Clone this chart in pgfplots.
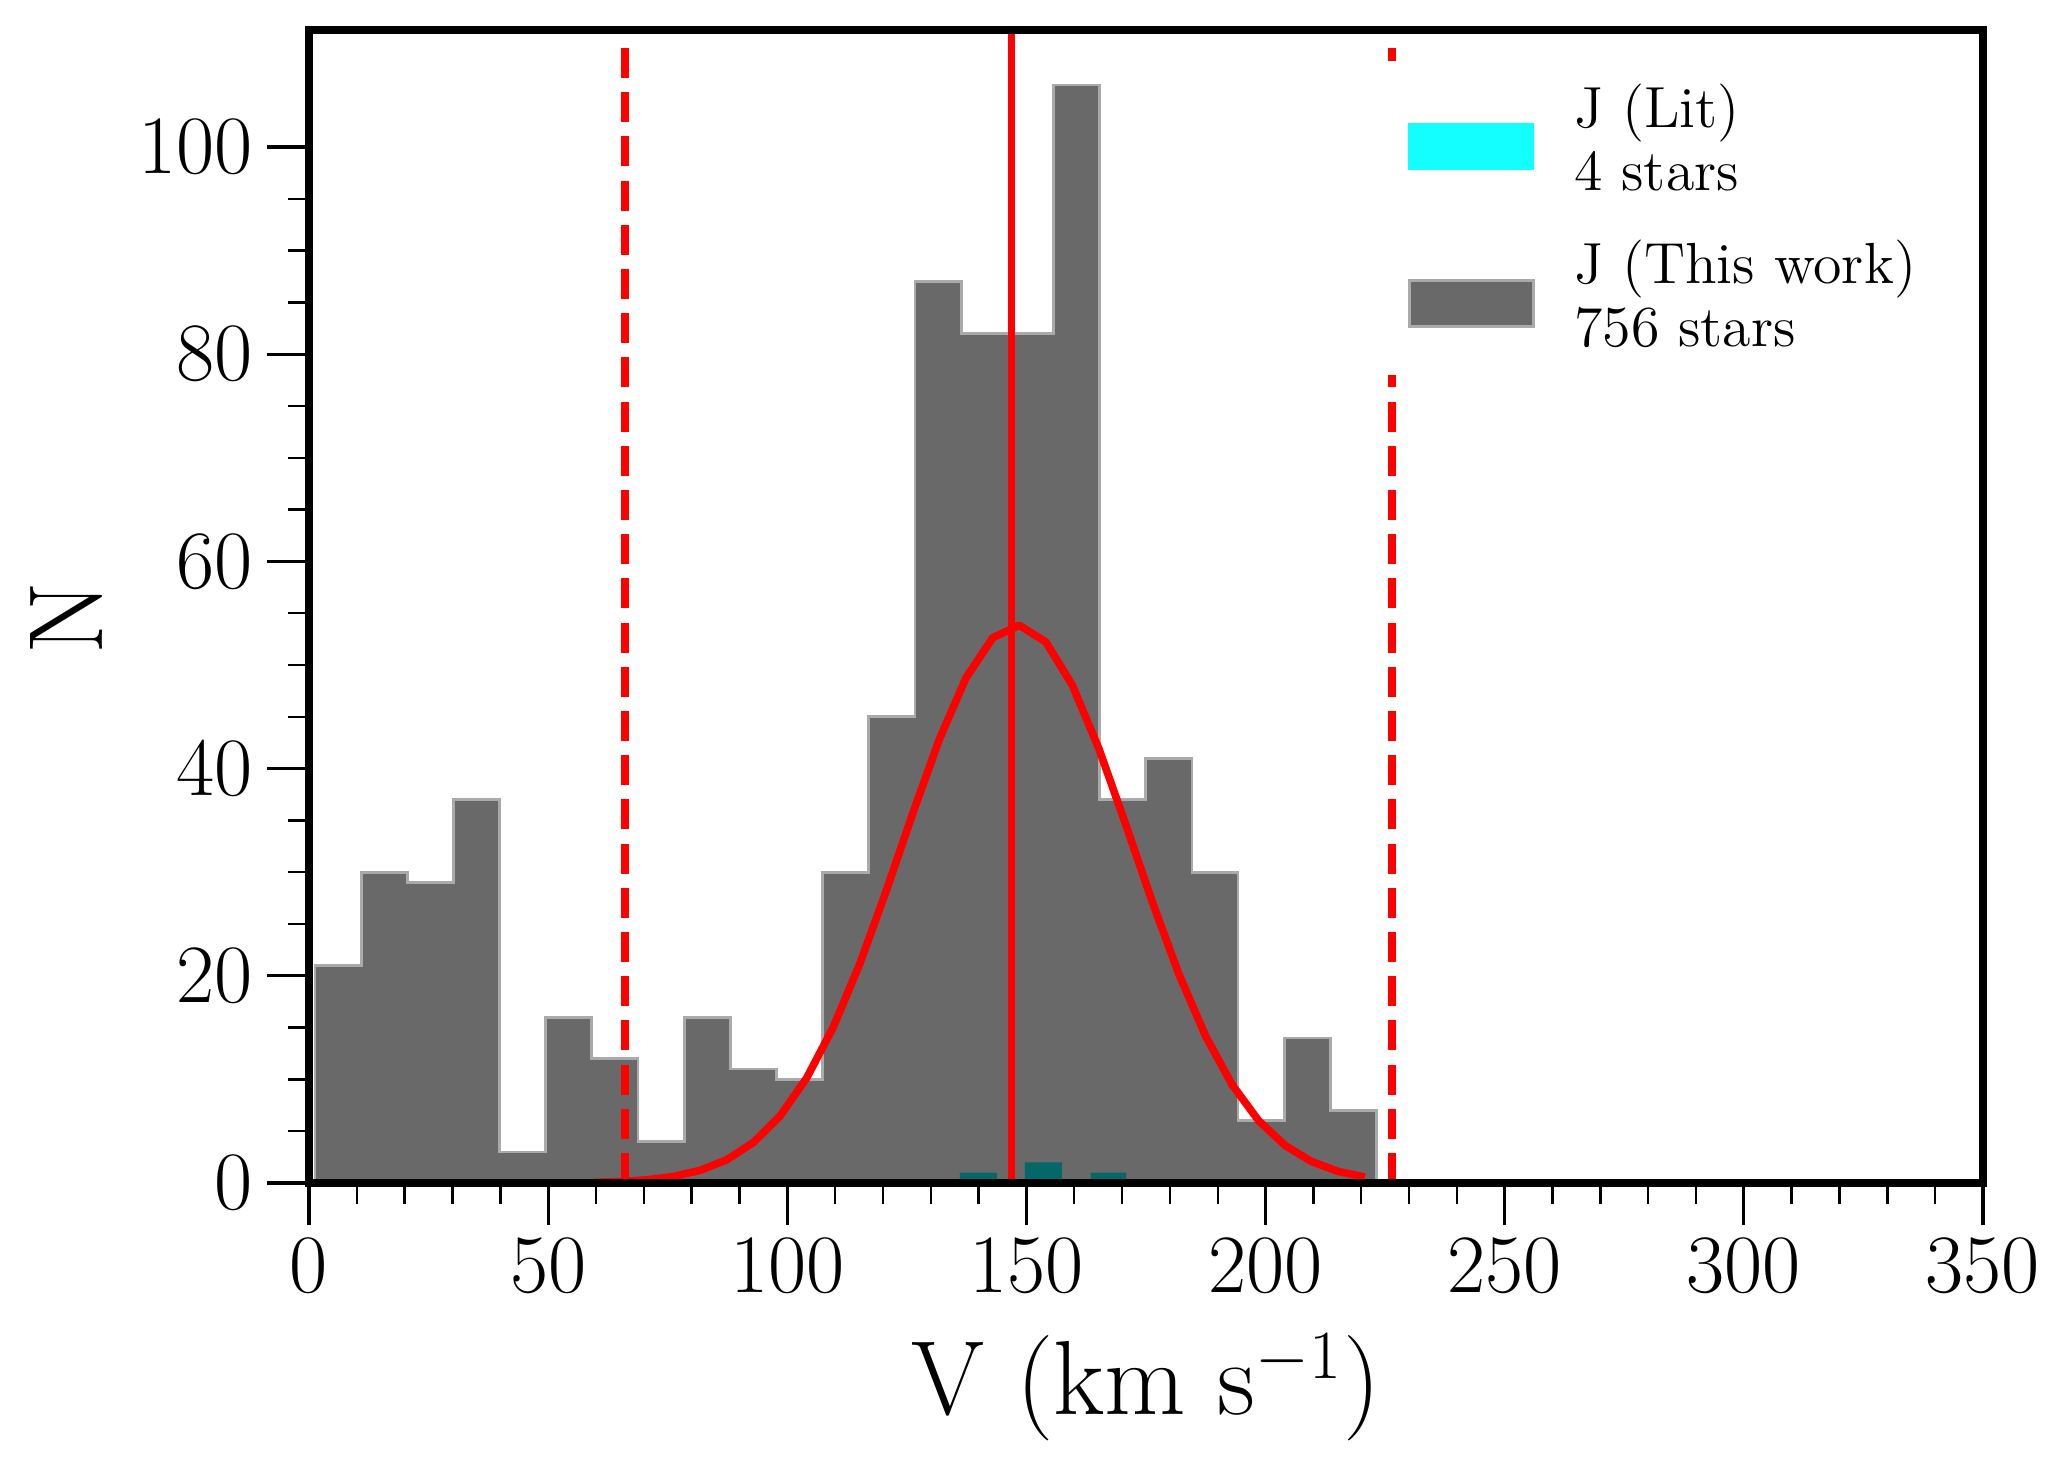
\documentclass[border=0pt]{standalone}
\usepackage{pgfplots}
\pgfplotsset{compat=1.18}
\definecolor{histgray}{RGB}{105,105,105}
\definecolor{edgegray}{RGB}{170,170,170}
\definecolor{litcyan}{RGB}{19,255,255}
\definecolor{litteal}{RGB}{5,104,104}
\begin{document}
\begin{tikzpicture}
\begin{axis}[
  scale only axis, width=418.5pt, height=288.25pt,
  xmin=0, xmax=350, ymin=0, ymax=111.3,
  axis on top,
  axis line style={line width=2pt},
  tick pos=left, tick align=outside,
  xtick={0,50,...,350}, ytick={0,20,...,100},
  minor x tick num=4, minor y tick num=3,
  major tick length=10.5pt, minor tick length=5.2pt,
  major tick style={line width=0.8pt, black},
  minor tick style={line width=0.6pt, black},
  tick label style={font=\fontsize{21.35}{25}\selectfont},
  xlabel={V (km s$^{-1}$)}, ylabel={N},
  label style={font=\fontsize{26.35}{30}\selectfont},
  xlabel style={at={(axis description cs:0.5,-0.2012)}, anchor=base},
  ylabel style={at={(axis description cs:-0.1235,0.49)}, anchor=base},
  legend style={at={(0.6416,0.974)}, anchor=north west, draw=none, fill=white,
    inner xsep=6pt, inner ysep=5.75pt, font=\fontsize{14.5}{15.8}\selectfont,
    row sep=10.8pt, column sep=9.9pt, nodes={inner sep=0pt}, cells={align=left}},
  legend cell align=left,
]
\addlegendimage{legend image code/.code={\fill[litcyan] (0pt,-7.2pt) rectangle (31pt,4.2pt);}}
\addlegendentry{J (Lit)\\4 stars}
\addlegendimage{legend image code/.code={\draw[fill=histgray, draw=edgegray, line width=0.7pt] (0pt,-7.6pt) rectangle (31pt,3.8pt);}}
\addlegendentry{J (This work)\\756 stars}

% This work histogram (stepfilled)
\addplot[const plot, fill=histgray, draw=edgegray, line width=0.7pt, forget plot] coordinates {
(1.25,21) (10.90,30) (20.55,29) (30.20,37) (39.85,3) (49.50,16) (59.15,12) (68.80,4)
(78.45,16) (88.10,11) (97.75,10) (107.40,30) (117.05,45) (126.70,87) (136.35,82)
(146.00,82) (155.65,106) (165.30,37) (174.95,41) (184.60,30) (194.25,6) (203.90,14)
(213.55,7) (223.20,7)} \closedcycle;

% Lit histogram
\addplot[const plot, fill=litteal, draw=none, forget plot] coordinates {
(136.1,1) (143.8,0) (149.7,2) (157.4,0) (163.5,1) (170.9,0)} \closedcycle;

% Gaussian fit
\addplot[red, line width=1.9pt, line join=round, forget plot] coordinates {
(59.54,0.063) (65.10,0.143) (70.66,0.308) (76.22,0.630) (81.78,1.221) (87.34,2.243)
(92.90,3.908) (98.46,6.456) (104.02,10.109) (109.58,15.012) (115.14,21.137)
(120.70,28.217) (126.26,35.717) (131.82,42.865) (137.38,48.777) (142.94,52.630)
(148.50,53.843) (154.06,52.228) (159.62,48.036) (165.18,41.891) (170.74,34.639)
(176.30,27.157) (181.86,20.188) (187.42,14.229) (192.98,9.507) (198.54,6.025)
(204.10,3.620) (209.66,2.063) (215.22,1.114) (220.78,0.571)};

% mean and limits
\addplot[red, line width=1.9pt, forget plot] coordinates {(146.9,0) (146.9,111.3)};
\addplot[red, line width=1.9pt, dash pattern=on 7.5pt off 3.55pt, forget plot] coordinates {(66.1,0) (66.1,111.3)};
\addplot[red, line width=1.9pt, dash pattern=on 7.5pt off 3.55pt, forget plot] coordinates {(226.4,0) (226.4,111.3)};
\end{axis}
\pgfresetboundingbox
\path (-77.25pt,-71.75pt) rectangle (440.25pt,295.75pt);
\end{tikzpicture}
\end{document}
